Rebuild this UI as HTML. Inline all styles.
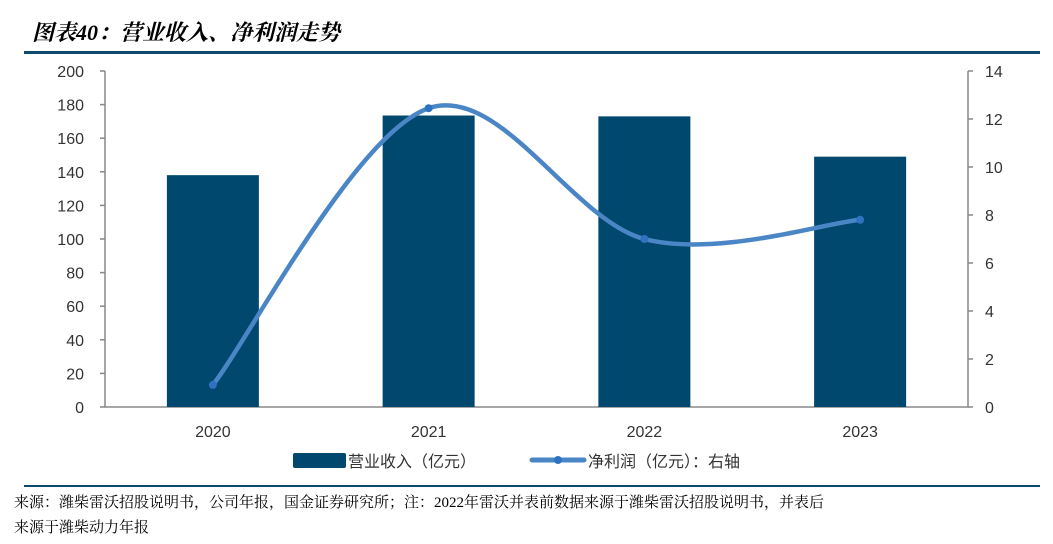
<!DOCTYPE html>
<html><head><meta charset="utf-8"><style>
body{margin:0;background:#fff;width:1053px;height:544px;overflow:hidden;position:relative;font-family:"Liberation Sans","Noto Sans CJK SC",sans-serif}
.t{position:absolute;left:32px;top:16px;font-size:22px;font-weight:bold;font-style:italic;font-family:"Liberation Serif","Noto Serif CJK SC",serif;color:#000}
.src{position:absolute;left:14px;font-size:15px;font-family:"Liberation Serif","Noto Serif CJK SC",serif;color:#000}
</style></head><body>
<div class="t">图表40：营业收入、净利润走势</div>
<div style="position:absolute;left:24px;top:51px;width:1016px;height:3px;background:#0d4a6e"></div>
<svg id="c" width="1053" height="544" style="position:absolute;left:0;top:0"></svg>
<div style="position:absolute;left:24px;top:485px;width:1016px;height:2px;background:#0d4a6e"></div>
<div class="src" style="top:491px">来源：潍柴雷沃招股说明书，公司年报，国金证券研究所；注：2022年雷沃并表前数据来源于潍柴雷沃招股说明书，并表后</div>
<div class="src" style="top:516px">来源于潍柴动力年报</div>
<script>
const categories=["2020","2021","2022","2023"];
const revenue=[138,173.5,173,149];
const profit=[0.92,12.45,7.0,7.8];
const leftTicks=[0,20,40,60,80,100,120,140,160,180,200];
const rightTicks=[0,2,4,6,8,10,12,14];
const NS="http://www.w3.org/2000/svg";
const svg=document.getElementById('c');
const x0=105,x1=968,yT=71,yB=407;
const yL=v=>yB-(v/200)*(yB-yT);
const yR=v=>yB-(v/14)*(yB-yT);
const xC=i=>x0+(i+0.5)*(x1-x0)/categories.length;
function mk(t,a){const e=document.createElementNS(NS,t);for(const k in a)e.setAttribute(k,a[k]);svg.appendChild(e);return e;}
// axes
let ax=mk('path',{d:`M${x0},${yT}V${yB}H${x1}V${yT}`,fill:'none',stroke:'#888','stroke-width':1.5});


leftTicks.forEach(v=>{
 const tk=mk('line',{x1:x0-5,x2:x0,y1:yL(v),y2:yL(v),stroke:'#888','stroke-width':1.5});
 
 
 const t=mk('text',{x:84,y:yL(v)+6,'text-anchor':'end','font-size':16,fill:'#333'});t.textContent=v;
 
 
});
rightTicks.forEach(v=>{
 const tk=mk('line',{x1:x1,x2:x1+5,y1:yR(v),y2:yR(v),stroke:'#888','stroke-width':1.5});
 
 
 const t=mk('text',{x:985,y:yR(v)+6,'text-anchor':'start','font-size':16,fill:'#333'});t.textContent=v;
 
 
});
categories.forEach((c,i)=>{
 const b=mk('rect',{x:xC(i)-46,y:yL(revenue[i]),width:92,height:yB-yL(revenue[i]),fill:'#00486e'});
 
 
 const t=mk('text',{x:xC(i),y:437,'text-anchor':'middle','font-size':16,fill:'#333'});t.textContent=c;
 
 
});
// smooth line (Catmull-Rom)
const P=profit.map((v,i)=>[xC(i),yR(v)]);
let d=`M${P[0][0]},${P[0][1]}`;
for(let i=0;i<P.length-1;i++){
 const p0=P[i-1]||P[i],p1=P[i],p2=P[i+1],p3=P[i+2]||P[i+1],k=6;
 d+=` C${p1[0]+(p2[0]-p0[0])/k},${p1[1]+(p2[1]-p0[1])/k} ${p2[0]-(p3[0]-p1[0])/k},${p2[1]-(p3[1]-p1[1])/k} ${p2[0]},${p2[1]}`;
}
const ln=mk('path',{d:d,fill:'none',stroke:'#4a86c6','stroke-width':4.5,'stroke-linecap':'round'});


P.forEach((p,i)=>{
 const m=mk('circle',{cx:p[0],cy:p[1],r:4,fill:'#2f73c0'});
 
 
});
// legend
const lg1=mk('rect',{x:293,y:453,width:53,height:15,rx:2,fill:'#00486e'});


let t1=mk('text',{x:348,y:467,'font-size':16,fill:'#333'});t1.textContent='营业收入（亿元）';


const lg2=mk('line',{x1:532,x2:584,y1:460,y2:460,stroke:'#4a86c6','stroke-width':5,'stroke-linecap':'round'});


mk('circle',{cx:558,cy:460,r:4,fill:'#2f73c0'});
let t2=mk('text',{x:588,y:467,'font-size':16,fill:'#333'});t2.textContent='净利润（亿元）：右轴';


</script>
</body></html>
